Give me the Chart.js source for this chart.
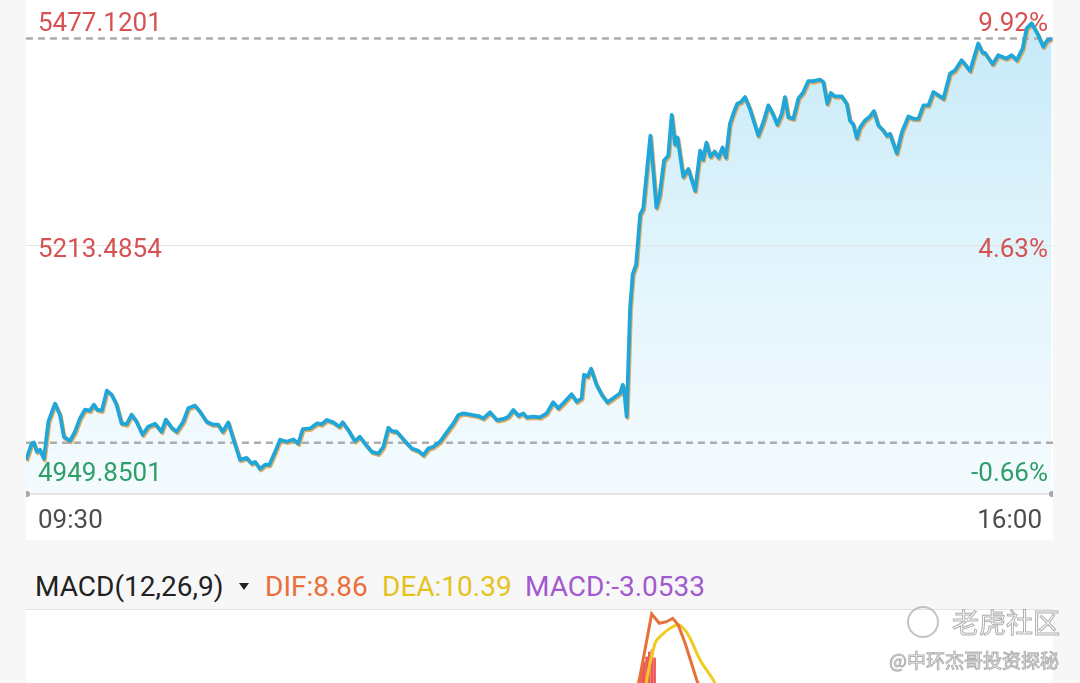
<!DOCTYPE html>
<html lang="zh">
<head>
  <meta charset="UTF-8">
  <title>分时走势 MACD</title>
  <script src="https://cdn.jsdelivr.net/npm/chart.js"></script>
  <style>
    html, body { margin: 0; padding: 0; }
    body { width: 1080px; height: 683px; overflow: hidden; background: #f7f7f7; position: relative; font-family: Roboto, "Noto Sans", sans-serif; }
    #mainPanel { position: absolute; left: 26px; top: 0; width: 1027px; height: 540px; background: #fff; }
    #macdPanel { position: absolute; left: 26px; top: 609px; width: 1027px; height: 240px; background: #fff; border-top: 1px solid #e2e2e2; }
    #macdHead { position: absolute; left: 0; top: 573px; width: 1080px; height: 30px; font-size: 28px; line-height: 28px; white-space: nowrap; }
    #macdHead span { position: absolute; top: 0; }
    #macdHead .tri { position: absolute; left: 239px; top: 10px; width: 0; height: 0; border-left: 5px solid transparent; border-right: 5px solid transparent; border-top: 7px solid #222; }
    .wm { position: absolute; color: rgba(255,255,255,0.95); -webkit-text-stroke: 1px rgba(150,150,150,0.75); font-family: "Noto Sans CJK SC", sans-serif; white-space: nowrap; z-index: 5; }
    #wmLogo { position: absolute; left: 907px; top: 606px; width: 28px; height: 28px; border: 2px solid rgba(170,170,170,0.7); border-radius: 50%; z-index: 5; }
  </style>
</head>
<body>
  <div id="mainPanel"><canvas id="priceChart" width="1027" height="540"></canvas></div>

  <div id="macdHead">
    <span style="left:35px;color:#222">MACD(12,26,9)</span>
    <div class="tri"></div>
    <span style="left:265px;color:#e8703a">DIF:8.86</span>
    <span style="left:382px;color:#e6c31c">DEA:10.39</span>
    <span style="left:525px;color:#a35ad0">MACD:-3.0533</span>
  </div>

  <div id="macdPanel"><canvas id="macdChart" width="1027" height="240"></canvas></div>

  <div id="wmLogo"></div>
  <div class="wm" style="left:952px;top:602px;font-size:27px;">老虎社区</div>
  <div class="wm" style="left:889px;top:646px;font-size:19px;">@中环杰哥投资探秘</div>

  <script>
    // minutes since 09:30 and index level
    const times = [0, 2.2, 3.0, 4.1, 5.3, 6.8, 8.5, 11.0, 12.9, 14.4, 16.7, 18.6, 20.5, 22.4, 24.3, 25.8, 27.0, 28.8, 30.7, 32.5,
      34.4, 36.3, 38.2, 40.1, 42.0, 44.3, 46.4, 49.0, 51.5, 53.1, 55.3, 57.2, 59.7, 61.6, 64.2, 66.1, 68.6, 71.1, 73.0, 74.7,
      76.8, 78.7, 81.3, 83.8, 85.7, 87.0, 88.9, 90.8, 92.4, 94.6, 96.5, 99.0, 101.5, 103.4, 105.1, 107.9, 110.6, 112.3, 114.2, 116.7,
      119.0, 120.3, 122.4, 124.9, 126.8, 128.7, 131.3, 133.8, 135.7, 137.6, 138.9, 140.8, 143.9, 146.5, 149.0, 150.9, 152.8, 154.7, 157.2, 160.4,
      162.3, 164.2, 166.1, 169.3, 171.8, 173.7, 176.2, 178.8, 181.3, 183.2, 185.1, 187.0, 188.9, 190.1, 192.7, 195.2, 197.7, 200.2, 202.1, 204.0,
      207.2, 209.1, 211.0, 211.9, 213.3, 214.6, 216.7, 218.6, 220.8, 223.0, 225.6, 226.6, 227.2, 228.1, 229.4, 230.4, 231.7, 233.2, 234.4, 237.1,
      239.4, 240.6, 242.3, 243.9, 245.2, 246.5, 247.4, 249.6, 251.5, 254.1, 256.0, 257.1, 258.4, 259.9, 261.5, 263.0, 264.5, 265.8, 267.3, 268.6,
      270.1, 271.5, 273.0, 274.9, 278.1, 280.0, 281.9, 283.6, 285.3, 287.0, 288.2, 289.5, 291.4, 293.3, 295.2, 297.1, 299.0, 301.5, 302.8, 304.3,
      305.6, 307.2, 309.8, 311.7, 312.9, 314.2, 315.5, 316.7, 318.6, 320.5, 322.0, 323.7, 325.6, 326.9, 328.1, 330.7, 332.6, 335.1, 337.0, 338.9,
      340.8, 342.7, 344.6, 346.5, 348.4, 350.9, 352.8, 355.3, 356.6, 358.5, 361.6, 363.3, 364.2, 367.1, 369.2, 372.2, 374.3, 376.2, 378.5, 380.0,
      381.9, 384.4, 386.3, 387.6, 389.5];
    const prices = [4986.3, 5003.8, 5004.8, 4994.9, 4997.0, 4987.4, 5027.0, 5046.3, 5034.5, 5010.9, 5006.6, 5016.3, 5030.5, 5039.9, 5038.8, 5045.2, 5039.9, 5038.8, 5060.2, 5055.9,
      5045.2, 5025.2, 5024.1, 5034.5, 5027.0, 5013.1, 5021.7, 5024.9, 5016.3, 5029.2, 5020.6, 5016.3, 5027.0, 5041.3, 5044.2, 5037.7, 5027.0, 5023.8, 5023.8, 5016.3,
      5026.3, 5009.1, 4986.3, 4988.4, 4982.3, 4984.1, 4976.6, 4981.2, 4980.9, 4994.9, 5007.7, 5005.6, 5008.0, 5003.8, 5019.2, 5019.8, 5025.2, 5024.1, 5028.8, 5026.3,
      5021.7, 5026.3, 5018.1, 5006.3, 5010.9, 5003.8, 4994.9, 4993.0, 5000.2, 5020.6, 5017.0, 5016.3, 5006.3, 4998.4, 4995.9, 4991.3, 4998.4, 5000.2, 5005.6, 5018.1,
      5025.2, 5034.2, 5035.9, 5034.2, 5033.1, 5030.5, 5037.0, 5028.8, 5029.9, 5032.4, 5039.5, 5033.4, 5035.9, 5031.6, 5032.4, 5031.6, 5035.9, 5047.7, 5041.3, 5046.6,
      5056.3, 5048.4, 5052.0, 5077.1, 5075.2, 5083.5, 5066.3, 5056.3, 5047.7, 5052.0, 5057.3, 5066.3, 5059.2, 5032.4, 5148.4, 5184.2, 5194.9, 5247.8, 5254.7, 5332.4,
      5255.6, 5268.1, 5305.7, 5311.0, 5354.4, 5322.8, 5330.3, 5288.5, 5296.8, 5273.5, 5316.4, 5306.7, 5324.9, 5309.9, 5315.3, 5308.9, 5319.6, 5308.9, 5345.0, 5355.7,
      5366.4, 5368.3, 5373.5, 5361.1, 5332.4, 5346.7, 5364.6, 5355.7, 5344.2, 5355.7, 5373.5, 5352.1, 5350.3, 5371.8, 5378.9, 5390.6, 5390.6, 5392.1, 5389.6, 5366.4,
      5377.8, 5374.2, 5374.2, 5366.4, 5348.5, 5344.2, 5329.8, 5341.0, 5348.5, 5352.8, 5358.5, 5343.2, 5337.8, 5332.4, 5334.3, 5313.5, 5336.0, 5352.8, 5350.3, 5350.3,
      5364.6, 5364.6, 5378.9, 5375.3, 5371.8, 5398.6, 5402.1, 5412.8, 5408.5, 5401.4, 5430.7, 5420.6, 5420.6, 5408.5, 5418.2, 5414.6, 5418.2, 5412.8, 5425.4, 5446.8,
      5452.2, 5439.6, 5427.1, 5433.5, 5436.1];

    const axisMax = 5477.1201;
    const axisMid = 5213.4854;
    const axisMin = 4949.8501;
    const preClose = 4982.80;
    const refPrice = 5004.5;
    const timeLabels = ['09:30', '16:00'];

    // MACD panel (only the top of it is on screen)
    const histTimes = [232.8, 233.8, 234.8, 235.7, 236.7, 237.7, 238.7];
    const histValues = [50, 60, 68, 73, 78, 80, 72];
    const difTimes = [0, 228.0, 230.9, 232.9, 237.6, 240.5, 243.3, 245.6, 247.7, 250.3, 254.7, 257.9, 300, 390];
    const difValues = [2, 5, 30, 50, 116, 106.7, 108.3, 111.7, 105, 86.7, 50, 30, 15, 8.86];
    const deaTimes = [0, 233.2, 235.7, 238.9, 241.4, 245.2, 248.1, 251.5, 256.0, 261.0, 265.4, 390];
    const deaValues = [2, 10, 50, 86.7, 95, 102.7, 105, 95, 70, 50, 30, 10.39];

    const toPoints = (xs, ys) => xs.map((t, i) => ({ x: t, y: ys[i] }));
    const pct = (v) => ((v / preClose - 1) * 100).toFixed(2) + '%';

    const mainDecor = {
      id: 'mainDecor',
      beforeDatasetsDraw(chart) {
        const { ctx, chartArea: a, scales: { y } } = chart;
        ctx.save();
        // middle grid line
        const yMid = Math.round(y.getPixelForValue(axisMid)) - 1.5;
        ctx.strokeStyle = '#e4e4e4';
        ctx.lineWidth = 1;
        ctx.beginPath(); ctx.moveTo(a.left, yMid); ctx.lineTo(a.right, yMid); ctx.stroke();
        // bottom axis
        ctx.strokeStyle = '#dedede';
        ctx.lineWidth = 1.5;
        ctx.beginPath(); ctx.moveTo(a.left, a.bottom); ctx.lineTo(a.right, a.bottom); ctx.stroke();
        ctx.fillStyle = '#a8a8a8';
        ctx.beginPath(); ctx.arc(a.left + 1, a.bottom, 3, 0, Math.PI * 2); ctx.fill();
        ctx.beginPath(); ctx.arc(a.right - 1, a.bottom, 3, 0, Math.PI * 2); ctx.fill();
        // dashed reference lines
        ctx.setLineDash([7, 5]);
        ctx.strokeStyle = '#adadad';
        ctx.lineWidth = 2.5;
        [prices[prices.length - 1], refPrice].forEach((v) => {
          const py = y.getPixelForValue(v);
          ctx.beginPath(); ctx.moveTo(a.left, py); ctx.lineTo(a.right, py); ctx.stroke();
        });
        ctx.setLineDash([]);
        // value labels
        ctx.font = '26px Roboto';
        const rows = [
          { v: axisMax, color: '#d65252', base: y.getPixelForValue(axisMax) + 31 },
          { v: axisMid, color: '#d65252', base: yMid + 11 },
          { v: axisMin, color: '#2f9e68', base: y.getPixelForValue(axisMin) - 13 },
        ];
        rows.forEach((r) => {
          ctx.fillStyle = r.color;
          ctx.textAlign = 'left';
          ctx.fillText(r.v.toFixed(4), a.left + 12, r.base);
          ctx.textAlign = 'right';
          ctx.fillText(pct(r.v), a.right - 5, r.base);
        });
        // time labels
        ctx.fillStyle = '#4d4d4d';
        ctx.textAlign = 'left';
        ctx.fillText(timeLabels[0], a.left + 12, a.bottom + 34);
        ctx.textAlign = 'right';
        ctx.fillText(timeLabels[1], a.right - 11, a.bottom + 34);
        ctx.restore();
      },
      beforeDatasetDraw(chart, args) {
        if (args.index !== 0) return;
        const c = chart.ctx;
        c.save();
        c.shadowColor = 'rgba(228,160,70,0.85)';
        c.shadowOffsetX = 1;
        c.shadowOffsetY = 1.5;
        c.shadowBlur = 0;
      },
      afterDatasetDraw(chart, args) {
        if (args.index === 0) chart.ctx.restore();
      },
    };

    new Chart(document.getElementById('priceChart'), {
      type: 'line',
      data: {
        datasets: [{
          data: toPoints(times, prices),
          borderColor: '#20a6d9',
          borderWidth: 3.8,
          borderJoinStyle: 'round',
          pointRadius: 0,
          tension: 0,
          fill: 'start',
          backgroundColor: (c) => {
            const a = c.chart.chartArea;
            if (!a) return 'transparent';
            const g = c.chart.ctx.createLinearGradient(0, a.top, 0, a.bottom);
            g.addColorStop(0, 'rgba(120,205,240,0.45)');
            g.addColorStop(1, 'rgba(200,235,250,0.2)');
            return g;
          },
        }],
      },
      options: {
        responsive: false,
        animation: false,
        devicePixelRatio: 1,
        layout: { padding: { top: 0, bottom: 46, left: 0, right: 0 } },
        scales: {
          x: { type: 'linear', min: 0, max: 390, offset: false, display: false },
          y: { min: axisMin, max: axisMax, display: false },
        },
        plugins: {
          legend: { display: false },
          tooltip: { enabled: false },
          filler: { drawTime: 'beforeDatasetsDraw' },
        },
      },
      plugins: [mainDecor],
    });

    new Chart(document.getElementById('macdChart'), {
      type: 'line',
      data: {
        datasets: [
          {
            type: 'bar',
            data: toPoints(histTimes, histValues),
            backgroundColor: '#ef5858',
            barThickness: 2,
            order: 3,
          },
          {
            data: toPoints(deaTimes, deaValues),
            borderColor: '#f0cb20',
            borderWidth: 3,
            pointRadius: 0,
            tension: 0.35,
            order: 2,
          },
          {
            data: toPoints(difTimes, difValues),
            borderColor: '#e8703a',
            borderWidth: 3,
            pointRadius: 0,
            tension: 0,
            order: 1,
          },
        ],
      },
      options: {
        responsive: false,
        animation: false,
        devicePixelRatio: 1,
        layout: { padding: 0 },
        scales: {
          x: { type: 'linear', min: 0, max: 390, offset: false, display: false, grid: { offset: false } },
          y: { min: -120, max: 120, display: false },
        },
        plugins: { legend: { display: false }, tooltip: { enabled: false } },
      },
    });
  </script>
</body>
</html>
